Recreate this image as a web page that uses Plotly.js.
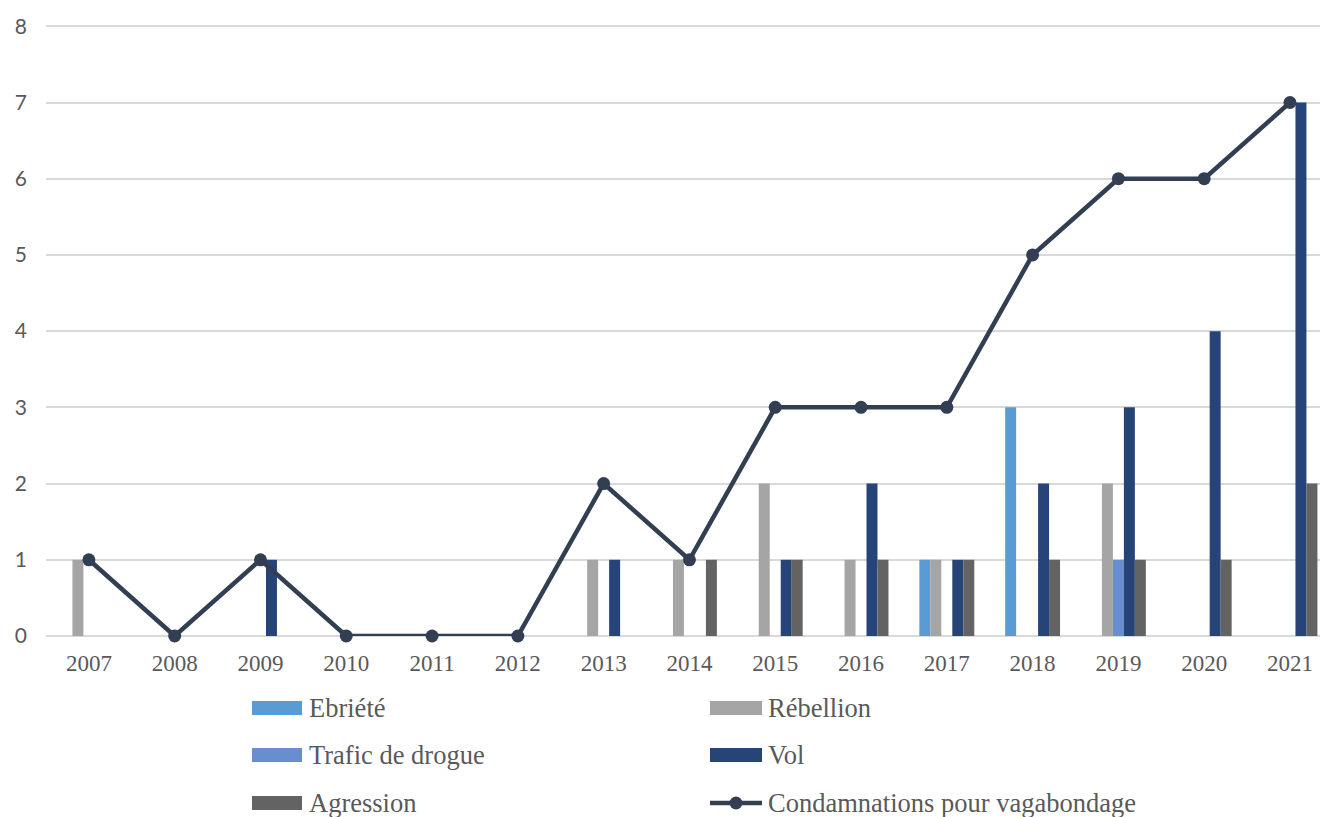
<!DOCTYPE html>
<html>
<head>
<meta charset="utf-8">
<script src="https://cdn.plot.ly/plotly-3.0.1.min.js"></script>
<style>html,body{margin:0;padding:0;background:#fff;}#chart{width:1320px;height:817px;}</style>
</head>
<body>
<div id="chart"></div>
<script>
const years = ["2007","2008","2009","2010","2011","2012","2013","2014","2015","2016","2017","2018","2019","2020","2021"];
const ebriete   = [0,0,0,0,0,0,0,0,0,0,1,3,0,0,0];
const rebellion = [1,0,0,0,0,0,1,1,2,1,1,0,2,0,0];
const trafic    = [0,0,0,0,0,0,0,0,0,0,0,0,1,0,0];
const vol       = [0,0,1,0,0,0,1,0,1,2,1,2,3,4,7];
const agression = [0,0,0,0,0,0,0,1,1,1,1,1,1,1,2];
const vagabondage = [1,0,1,0,0,0,2,1,3,3,3,5,6,6,7];

const barNames  = ["Ebriété","Rébellion","Trafic de drogue","Vol","Agression"];
const barValues = [ebriete, rebellion, trafic, vol, agression];
const barColors = ["#5b9bd5","#a5a5a5","#698ed0","#264478","#636363"];
const lineName  = "Condamnations pour vagabondage";
const lineColor = "#323f53";

const traces = barNames.map((n,i)=>({
  type:"bar", name:n, x:years, y:barValues[i],
  marker:{color:barColors[i], line:{width:0}}, showlegend:false
}));
traces.push({
  type:"scatter", mode:"lines+markers", name:lineName, x:years, y:vagabondage,
  line:{color:lineColor, width:4.5}, marker:{color:lineColor, size:13}, showlegend:false,
  cliponaxis:false
});

// custom legend (layout only)
const W = 1320, H = 817, ml = 46, mr = 0, mt = 24, mb = 181;
const pw = W-ml-mr, ph = H-mt-mb;
const px = v => (v-ml)/pw;
const py = v => (H-mb-v)/ph;
const legendItems = [
  {name:barNames[0], color:barColors[0], kind:"bar"},
  {name:barNames[1], color:barColors[1], kind:"bar"},
  {name:barNames[2], color:barColors[2], kind:"bar"},
  {name:barNames[3], color:barColors[3], kind:"bar"},
  {name:barNames[4], color:barColors[4], kind:"bar"},
  {name:lineName, color:lineColor, kind:"line"}
];
const colSym = [[252,302],[710,762]];
const colText = [307,766];
const rowY = [708,755,803];
const shapes = [], annotations = [];
legendItems.forEach((it,i)=>{
  const c = i%2, r = Math.floor(i/2);
  const [x0,x1] = colSym[c], yc = rowY[r];
  if(it.kind==="bar"){
    shapes.push({type:"rect", xref:"paper", yref:"paper", x0:px(x0), x1:px(x1), y0:py(yc+7), y1:py(yc-7),
      fillcolor:it.color, line:{width:0}});
  } else {
    shapes.push({type:"line", xref:"paper", yref:"paper", x0:px(x0), x1:px(x1), y0:py(yc), y1:py(yc),
      line:{color:it.color, width:4.5}});
    const xm=(x0+x1)/2;
    shapes.push({type:"circle", xref:"paper", yref:"paper", x0:px(xm-6.5), x1:px(xm+6.5), y0:py(yc+6.5), y1:py(yc-6.5),
      fillcolor:it.color, line:{width:0}});
  }
  annotations.push({xref:"paper", yref:"paper", x:px(colText[c]), y:py(yc), xanchor:"left", yanchor:"middle",
    text:it.name, showarrow:false, font:{family:"Liberation Serif, Times New Roman, serif", size:26.5, color:"#595959"}});
});

const layout = {
  width:W, height:H,
  margin:{l:ml, r:mr, t:mt, b:mb, pad:0},
  paper_bgcolor:"#fff", plot_bgcolor:"#fff",
  barmode:"group", bargap:0.36, bargroupgap:0,
  showlegend:false,
  xaxis:{type:"category", range:[-0.5,14.35], showgrid:false, showline:false, zeroline:false, ticks:"",
    tickfont:{family:"Liberation Serif, Times New Roman, serif", size:23, color:"#595959"}, ticklabelstandoff:11},
  yaxis:{range:[0,8.03], tickvals:[0,1,2,3,4,5,6,7,8], showgrid:true, gridcolor:"#d9d9d9", gridwidth:2, zeroline:true, zerolinecolor:"#d9d9d9", zerolinewidth:2,
    showline:false, ticks:"", tickfont:{family:"Lato, Open Sans, sans-serif", size:21, color:"#595959"}, ticklabelstandoff:18},
  shapes:shapes, annotations:annotations
};
Plotly.newPlot("chart", traces, layout, {staticPlot:true, displayModeBar:false});
</script>
</body>
</html>
